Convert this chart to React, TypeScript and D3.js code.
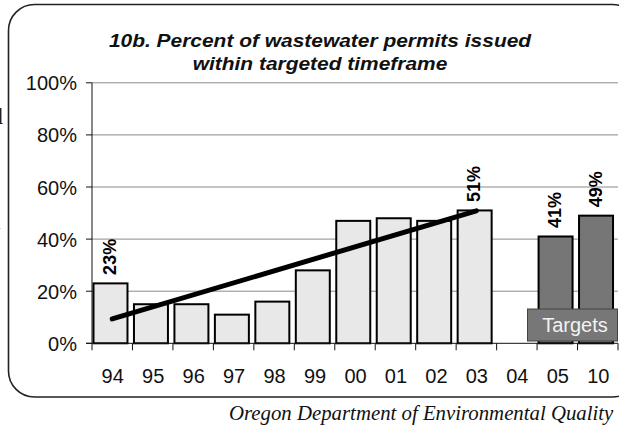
import React from "react";
import * as d3 from "d3";

const years = ["94", "95", "96", "97", "98", "99", "00", "01", "02", "03", "04", "05", "10"];
const actualYears = ["94", "95", "96", "97", "98", "99", "00", "01", "02", "03"];
const actualValues = [23, 15, 15, 11, 16, 28, 47, 48, 47, 51];
const targetYears = ["05", "10"];
const targetValues = [41, 49];
const labelledYears = ["94", "03", "05", "10"];
const yTicks = [0, 20, 40, 60, 80, 100];
const titleLines = ["10b. Percent of wastewater permits issued", "within targeted timeframe"];
const sourceText = "Oregon Department of Environmental Quality";

const W = 619;
const H = 425;

export default function App() {
  const x = d3.scaleBand<string>().domain(years).range([92, 618]).padding(0);
  const y = d3.scaleLinear().domain([0, 100]).range([343.3, 82.8]);
  const bw = x.bandwidth();
  const barW = bw * 0.84;
  const barX = (c: string) => (x(c) as number) + 1.5;
  const center = (c: string) => barX(c) + barW / 2;

  // linear trendline (least squares) over actual series
  const idx = actualValues.map((_, i) => i);
  const mx = d3.mean(idx) as number;
  const my = d3.mean(actualValues) as number;
  const sxy = d3.sum(idx, (i) => (i - mx) * (actualValues[i] - my));
  const sxx = d3.sum(idx, (i) => (i - mx) * (i - mx));
  const slope = sxy / sxx;
  const intercept = my - slope * mx;
  const firstC = (x(actualYears[0]) as number) + bw / 2;
  const lastC = (x(actualYears[actualYears.length - 1]) as number) + bw / 2;
  const trend = d3.line<[number, number]>()([
    [firstC, y(intercept)],
    [lastC, y(intercept + slope * (actualValues.length - 1))],
  ]);

  const allBars = [
    ...actualYears.map((c, i) => ({ c, v: actualValues[i], target: false })),
    ...targetYears.map((c, i) => ({ c, v: targetValues[i], target: true })),
  ];

  const boundaries = [...years.map((c) => x(c) as number), 618];

  return (
    <svg
      width={W}
      height={H}
      viewBox={`0 0 ${W} ${H}`}
      style={{ position: "fixed", left: 0, top: 0, display: "block", background: "#fff" }}
      fontFamily="'Liberation Sans', Arial, sans-serif"
    >
      <rect x={0} y={0} width={W} height={H} fill="#fff" />
      {/* cropped background text fragments */}
      <text x={-9} y={124} fontFamily="'Liberation Serif', serif" fontSize={24} fill="#222">d</text>
      <text x={-9} y={229} fontFamily="'Liberation Serif', serif" fontSize={22} fill="#888">a</text>

      {/* frame */}
      <rect x={8.5} y={4.5} width={630} height={392.5} rx={26} ry={26} fill="none" stroke="#222" strokeWidth={1.6} />

      {/* title */}
      <g transform="translate(320,0) scale(1.19,1)" fontWeight="bold" fontStyle="italic" fontSize={17.6} fill="#111">
        <text x={0} y={47.5} textAnchor="middle">{titleLines[0]}</text>
        <text x={0} y={70} textAnchor="middle">{titleLines[1]}</text>
      </g>

      {/* gridlines */}
      {yTicks.filter((t) => t > 0).map((t) => (
        <line key={t} x1={92} x2={618} y1={y(t)} y2={y(t)} stroke="#8a8a8a" strokeWidth={1} />
      ))}

      {/* y axis */}
      <line x1={92} x2={92} y1={y(100)} y2={y(0)} stroke="#111" strokeWidth={1} />
      {yTicks.map((t) => (
        <g key={t}>
          <line x1={86} x2={92} y1={y(t)} y2={y(t)} stroke="#111" strokeWidth={1} />
          <text x={77} y={y(t) + 7.5} textAnchor="end" fontSize={20} fill="#111">{`${t}%`}</text>
        </g>
      ))}

      {/* bars */}
      {allBars.map((b) => (
        <rect
          key={b.c}
          x={barX(b.c)}
          y={y(b.v)}
          width={barW}
          height={y(0) - y(b.v)}
          fill={b.target ? "#767676" : "#e8e8e8"}
          stroke="#000"
          strokeWidth={2}
        />
      ))}

      {/* x axis */}
      <line x1={86} x2={618} y1={y(0)} y2={y(0)} stroke="#111" strokeWidth={1} />
      {boundaries.map((bx, i) => (
        <line key={i} x1={bx} x2={bx} y1={y(0)} y2={y(0) + 7} stroke="#111" strokeWidth={1} />
      ))}
      {years.map((c) => (
        <text key={c} x={(x(c) as number) + bw / 2 + 0.5} y={383.3} textAnchor="middle" fontSize={20} fill="#111">{c}</text>
      ))}

      {/* trend line */}
      <path d={trend as string} stroke="#000" strokeWidth={5} strokeLinecap="round" fill="none" />

      {/* value labels */}
      {allBars.filter((b) => labelledYears.includes(b.c)).map((b) => {
        const cx = center(b.c) - 1;
        const ty = y(b.v) - 8.5;
        return (
          <text
            key={b.c}
            transform={`translate(${cx + 6.5},${ty}) rotate(-90)`}
            fontSize={18}
            fontWeight="bold"
            fill="#000"
          >{`${b.v}%`}</text>
        );
      })}

      {/* targets box */}
      <rect x={527.5} y={309} width={90} height={32} fill="#777" stroke="#444" strokeWidth={1} />
      <text x={575} y={331.7} textAnchor="middle" fontSize={20} fill="#f2f2f2">Targets</text>

      {/* source */}
      <text x={229} y={420} fontFamily="'Liberation Serif', 'Times New Roman', serif" fontStyle="italic" fontSize={20.8} fill="#111">
        {sourceText}
      </text>
    </svg>
  );
}
